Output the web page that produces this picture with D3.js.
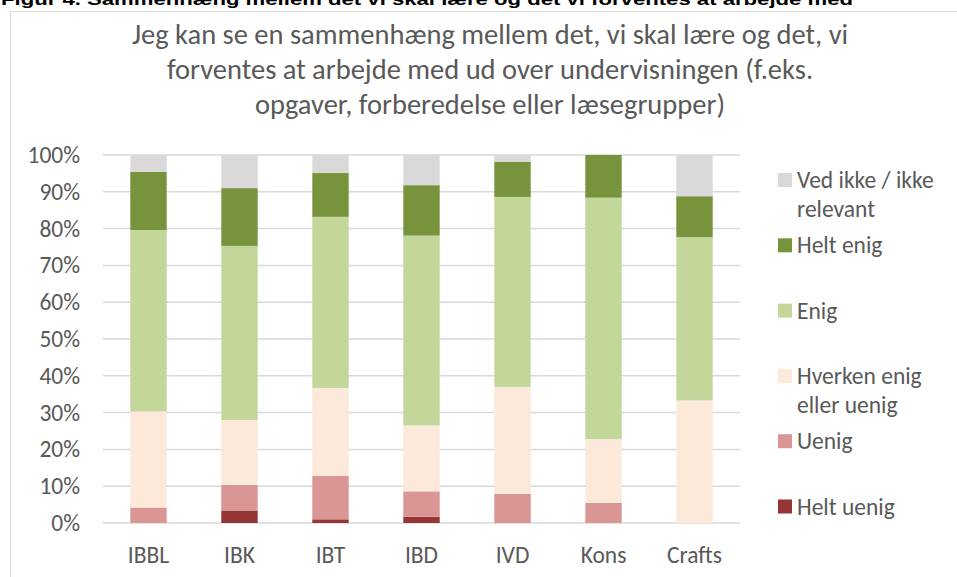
<!DOCTYPE html>
<html>
<head>
<meta charset="utf-8">
<script src="https://cdn.jsdelivr.net/npm/d3@7"></script>
<style>
  body { margin: 0; background: #fff; }
  svg text { font-family: Carlito, Lato, "Open Sans", sans-serif; fill: #595959; }
</style>
</head>
<body>
<div class="chart-container"></div>
<script>
// chart values (percent of answers)
var categories = ['IBBL', 'IBK', 'IBT', 'IBD', 'IVD', 'Kons', 'Crafts'];
var heltUenig = [0, 3.4, 1.0, 1.7, 0, 0, 0];
var uenig = [4.2, 7.0, 11.8, 6.9, 7.9, 5.5, 0];
var hverken = [26.1, 17.6, 23.9, 17.9, 29.1, 17.3, 33.3];
var enig = [49.3, 47.3, 46.5, 51.6, 51.6, 65.6, 44.4];
var heltEnig = [15.8, 15.7, 11.9, 13.7, 9.6, 11.6, 11.1];
var vedIkke = [4.6, 9.0, 4.9, 8.2, 1.8, 0, 11.1];
var yTicks = [0, 10, 20, 30, 40, 50, 60, 70, 80, 90, 100];

var seriesNames = ['Helt uenig', 'Uenig', 'Hverken enig eller uenig', 'Enig', 'Helt enig', 'Ved ikke / ikke relevant'];
var seriesValues = [heltUenig, uenig, hverken, enig, heltEnig, vedIkke];
var seriesColors = ['#963634', '#da9694', '#fde9d9', '#c4d79b', '#77933c', '#d9d9d9'];
// legend text split the same way as the picture
var legendLines = [['Helt uenig'], ['Uenig'], ['Hverken enig', 'eller uenig'], ['Enig'], ['Helt enig'], ['Ved ikke / ikke', 'relevant']];

var titleLines = [
  'Jeg kan se en sammenhæng mellem det, vi skal lære og det, vi',
  'forventes at arbejde med ud over undervisningen (f.eks.',
  'opgaver, forberedelse eller læsegrupper)'
];

var width = 957;
var height = 577;
var margin = { top: 155, right: 217, bottom: 54, left: 103 };

var svg = d3.select('.chart-container').append('svg')
  .attr('width', width)
  .attr('height', height);

// caption of the figure, cut off at the top edge like in the source
svg.append('text')
  .attr('x', 1)
  .attr('y', 5)
  .attr('textLength', 852)
  .attr('lengthAdjust', 'spacingAndGlyphs')
  .style('font-family', '"Liberation Sans", Arial, sans-serif')
  .style('font-weight', 'bold')
  .style('font-size', '17px')
  .style('fill', '#000')
  .text('Figur 4. Sammenhæng mellem det vi skal lære og det vi forventes at arbejde med');

// chart frame
svg.append('rect')
  .attr('x', 10.5)
  .attr('y', 11.5)
  .attr('width', 960)
  .attr('height', 580)
  .attr('fill', 'none')
  .attr('stroke', '#d9d9d9')
  .attr('stroke-width', 1);

// title
svg.append('g')
  .selectAll('text')
  .data(titleLines)
  .enter()
  .append('text')
    .attr('x', 490)
    .attr('y', function (d, i) { return 44 + i * 35; })
    .attr('text-anchor', 'middle')
    .style('font-size', '28.5px')
    .style('font-weight', 300)
    .text(function (d) { return d; });

var x = d3.scaleBand()
  .domain(categories)
  .range([margin.left, width - margin.right])
  .paddingInner(0.6)
  .paddingOuter(0.3);

var y = d3.scaleLinear()
  .domain([0, 100])
  .range([height - margin.bottom, margin.top]);

// gridlines
svg.append('g')
  .selectAll('line')
  .data(yTicks)
  .enter()
  .append('line')
    .attr('x1', margin.left)
    .attr('x2', width - margin.right)
    .attr('y1', function (d) { return y(d); })
    .attr('y2', function (d) { return y(d); })
    .attr('stroke', '#d9d9d9')
    .attr('stroke-width', 1.5);

// y tick labels
svg.append('g')
  .selectAll('text')
  .data(yTicks)
  .enter()
  .append('text')
    .attr('x', 80)
    .attr('y', function (d) { return y(d) + 8; })
    .attr('text-anchor', 'end')
    .style('font-size', '23.5px')
    .style('font-weight', 300)
    .text(function (d) { return d + '%'; });

// stack the series
var rows = categories.map(function (c, i) {
  var row = { cat: c };
  seriesNames.forEach(function (s, k) { row[s] = seriesValues[k][i]; });
  return row;
});
var stacked = d3.stack().keys(seriesNames)(rows);

var layers = svg.append('g')
  .selectAll('g')
  .data(stacked)
  .enter()
  .append('g')
    .attr('fill', function (d, i) { return seriesColors[i]; });

layers.selectAll('rect')
  .data(function (d) { return d; })
  .enter()
  .append('rect')
    .attr('x', function (d) { return x(d.data.cat); })
    .attr('width', x.bandwidth())
    .attr('y', function (d) { return y(d[1]); })
    .attr('height', function (d) { return y(d[0]) - y(d[1]); });

// x labels
svg.append('g')
  .selectAll('text')
  .data(categories)
  .enter()
  .append('text')
    .attr('x', function (d) { return x(d) + x.bandwidth() / 2; })
    .attr('y', 563)
    .attr('text-anchor', 'middle')
    .style('font-size', '23.5px')
    .style('font-weight', 300)
    .text(function (d) { return d; });

// legend, top entry is the last series
var legend = svg.append('g')
  .selectAll('g')
  .data(d3.range(seriesNames.length).reverse())
  .enter()
  .append('g')
    .attr('transform', function (d, i) { return 'translate(778,' + (180 + i * 65.3) + ')'; });

legend.append('rect')
  .attr('x', 0)
  .attr('y', -7)
  .attr('width', 14)
  .attr('height', 14)
  .attr('fill', function (d) { return seriesColors[d]; });

legend.each(function (d) {
  d3.select(this).selectAll('text')
    .data(legendLines[d])
    .enter()
    .append('text')
      .attr('x', 19)
      .attr('y', function (t, j) { return 8 + j * 29; })
      .style('font-size', '23.5px')
      .style('font-weight', 300)
      .text(function (t) { return t; });
});
</script>
</body>
</html>
